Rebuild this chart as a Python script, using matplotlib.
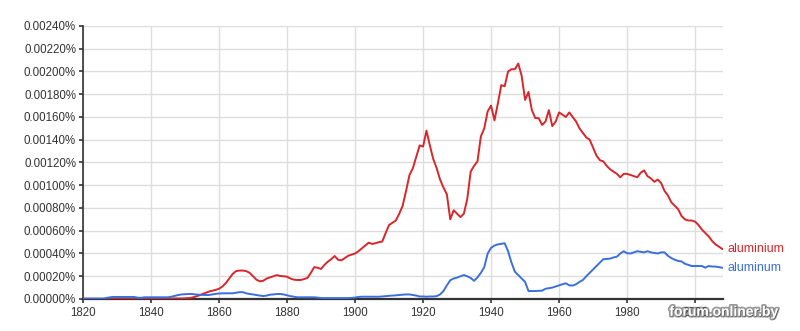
import matplotlib
matplotlib.use("Agg")
import matplotlib.pyplot as plt
import matplotlib.patheffects as pe
from matplotlib.ticker import FuncFormatter, MultipleLocator

plt.rcParams['font.family'] = ['Liberation Sans', 'DejaVu Sans']

years = list(range(1820, 2009))

aluminium = [
    # 1820-1829
    0.000002, 0.000002, 0.000002, 0.000002, 0.000002, 0.000002, 0.000002, 0.000002, 0.000002, 0.000002,
    # 1830-1839
    0.000005, 0.000005, 0.000005, 0.000005, 0.000005, 0.000005, 0.000005, 0.000005, 0.000005, 0.000005,
    # 1840-1849
    0.000005, 0.000005, 0.000005, 0.000005, 0.000005, 0.000005, 0.000005, 0.000005, 0.000005, 0.000005,
    # 1850-1859
    0.000006, 0.000008, 0.000012, 0.000020, 0.000030, 0.000042, 0.000055, 0.000065, 0.000072, 0.000080,
    # 1860-1869
    0.000090, 0.000110, 0.000140, 0.000180, 0.000220, 0.000245, 0.000250, 0.000250, 0.000245, 0.000230,
    # 1870-1879
    0.000200, 0.000170, 0.000155, 0.000160, 0.000180, 0.000190, 0.000200, 0.000210, 0.000202, 0.000200,
    # 1880-1889
    0.000196, 0.000180, 0.000170, 0.000167, 0.000167, 0.000175, 0.000185, 0.000230, 0.000280, 0.000275,
    # 1890-1899
    0.000264, 0.000300, 0.000328, 0.000350, 0.000378, 0.000345, 0.000340, 0.000360, 0.000380, 0.000390,
    # 1900-1909
    0.000400, 0.000420, 0.000445, 0.000470, 0.000495, 0.000484, 0.000490, 0.000500, 0.000505, 0.000580,
    # 1910-1919
    0.000650, 0.000670, 0.000690, 0.000750, 0.000820, 0.000950, 0.001090, 0.001150, 0.001250, 0.001350,
    # 1920-1929
    0.001340, 0.001480, 0.001350, 0.001230, 0.001150, 0.001050, 0.000980, 0.000920, 0.000700, 0.000780,
    # 1930-1939
    0.000750, 0.000720, 0.000750, 0.000880, 0.001120, 0.001170, 0.001210, 0.001430, 0.001500, 0.001650,
    # 1940-1949
    0.001700, 0.001570, 0.001720, 0.001880, 0.001870, 0.002000, 0.002020, 0.002020, 0.002070, 0.001960,
    # 1950-1959
    0.001750, 0.001820, 0.001660, 0.001590, 0.001590, 0.001530, 0.001560, 0.001660, 0.001520, 0.001560,
    # 1960-1969
    0.001640, 0.001620, 0.001600, 0.001640, 0.001600, 0.001560, 0.001500, 0.001460, 0.001420, 0.001400,
    # 1970-1979
    0.001330, 0.001260, 0.001220, 0.001210, 0.001170, 0.001140, 0.001120, 0.001100, 0.001070, 0.001100,
    # 1980-1989
    0.001100, 0.001090, 0.001080, 0.001070, 0.001110, 0.001130, 0.001080, 0.001060, 0.001030, 0.001050,
    # 1990-1999
    0.001020, 0.000950, 0.000910, 0.000850, 0.000820, 0.000790, 0.000730, 0.000700, 0.000690, 0.000690,
    # 2000-2008
    0.000680, 0.000650, 0.000610, 0.000580, 0.000550, 0.000510, 0.000480, 0.000460, 0.000440,
]

aluminum = [
    # 1820-1829
    0.000003, 0.000003, 0.000003, 0.000003, 0.000003, 0.000003, 0.000003, 0.000010, 0.000015, 0.000018,
    # 1830-1839
    0.000018, 0.000018, 0.000018, 0.000018, 0.000018, 0.000018, 0.000012, 0.000010, 0.000015, 0.000015,
    # 1840-1849
    0.000015, 0.000015, 0.000015, 0.000015, 0.000015, 0.000015, 0.000020, 0.000028, 0.000035, 0.000040,
    # 1850-1859
    0.000042, 0.000044, 0.000044, 0.000040, 0.000038, 0.000036, 0.000035, 0.000035, 0.000040, 0.000045,
    # 1860-1869
    0.000048, 0.000050, 0.000050, 0.000050, 0.000050, 0.000055, 0.000060, 0.000060, 0.000050, 0.000044,
    # 1870-1879
    0.000040, 0.000035, 0.000030, 0.000026, 0.000030, 0.000038, 0.000040, 0.000044, 0.000044, 0.000040,
    # 1880-1889
    0.000032, 0.000025, 0.000020, 0.000015, 0.000015, 0.000015, 0.000015, 0.000015, 0.000015, 0.000012,
    # 1890-1899
    0.000008, 0.000008, 0.000008, 0.000008, 0.000008, 0.000008, 0.000008, 0.000008, 0.000008, 0.000010,
    # 1900-1909
    0.000012, 0.000018, 0.000020, 0.000020, 0.000020, 0.000020, 0.000020, 0.000020, 0.000022, 0.000025,
    # 1910-1919
    0.000028, 0.000030, 0.000032, 0.000035, 0.000038, 0.000040, 0.000040, 0.000035, 0.000030, 0.000022,
    # 1920-1929
    0.000022, 0.000020, 0.000022, 0.000022, 0.000025, 0.000040, 0.000070, 0.000120, 0.000165, 0.000180,
    # 1930-1939
    0.000188, 0.000200, 0.000210, 0.000200, 0.000185, 0.000160, 0.000190, 0.000230, 0.000280, 0.000400,
    # 1940-1949
    0.000450, 0.000470, 0.000480, 0.000485, 0.000490, 0.000420, 0.000320, 0.000240, 0.000210, 0.000180,
    # 1950-1959
    0.000150, 0.000070, 0.000070, 0.000070, 0.000072, 0.000073, 0.000090, 0.000095, 0.000100, 0.000110,
    # 1960-1969
    0.000120, 0.000130, 0.000138, 0.000120, 0.000118, 0.000130, 0.000150, 0.000167, 0.000200, 0.000230,
    # 1970-1979
    0.000260, 0.000290, 0.000320, 0.000350, 0.000352, 0.000355, 0.000365, 0.000372, 0.000400, 0.000420,
    # 1980-1989
    0.000402, 0.000400, 0.000410, 0.000420, 0.000415, 0.000410, 0.000420, 0.000410, 0.000405, 0.000400,
    # 1990-1999
    0.000410, 0.000410, 0.000380, 0.000360, 0.000345, 0.000335, 0.000330, 0.000310, 0.000300, 0.000290,
    # 2000-2008
    0.000290, 0.000290, 0.000290, 0.000275, 0.000290, 0.000285, 0.000285, 0.000280, 0.000275,
]

series_names = ["aluminium", "aluminum"]
series_colors = ["#d8262b", "#3a6fdc"]

fig = plt.figure(figsize=(8.0, 3.31), dpi=100)
ax = fig.add_axes([0.10375, 0.0967, 0.80, 0.8248])

for vals, name, col in zip([aluminium, aluminum], series_names, series_colors):
    ax.plot(years, vals, color=col, lw=1.4, solid_joinstyle='round', zorder=3)
    ax.annotate(name, xy=(years[-1], vals[-1]), xytext=(4, 0), textcoords='offset points',
                color=col, fontsize=9, va='center', ha='left', annotation_clip=False)

ax.set_xlim(1820, 2008.2)
ax.set_ylim(0, 0.0024)
ax.xaxis.set_major_locator(MultipleLocator(20))
ax.yaxis.set_major_locator(MultipleLocator(0.0002))
ax.yaxis.set_major_formatter(FuncFormatter(lambda v, p: f"{v:.5f}%"))

ax.grid(True, color='#dddddd', lw=1.0, zorder=0)
ax.set_axisbelow(True)
for s in ['top', 'right']:
    ax.spines[s].set_visible(False)
ax.spines['left'].set_color('#333333')
ax.spines['left'].set_linewidth(1.2)
ax.spines['bottom'].set_color('#333333')
ax.spines['bottom'].set_linewidth(1.6)
ax.tick_params(axis='both', colors='#333333', labelsize=8.3, length=3, width=1.2, pad=2)
ax.tick_params(axis='x', pad=3)

fig.text(0.905, 0.058, "forum.onliner.by", color='white', fontsize=10, fontweight='bold',
         ha='center', va='center',
         path_effects=[pe.withSimplePatchShadow(offset=(0.5, -0.5), shadow_rgbFace='#333333', alpha=0.9),
                       pe.Stroke(linewidth=2.5, foreground='#555555', alpha=0.6), pe.Normal()])

fig.savefig("out.png", dpi=100)
